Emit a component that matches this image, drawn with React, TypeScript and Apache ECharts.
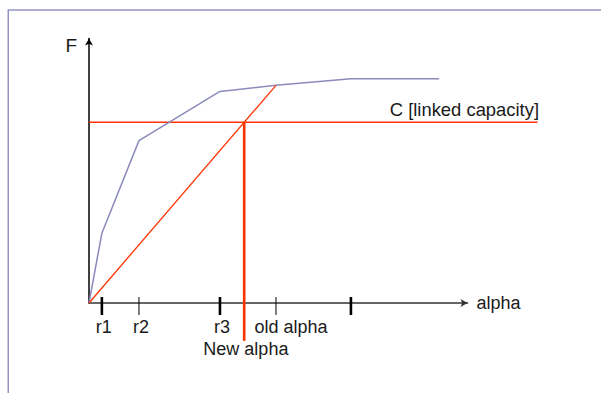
import React, { useEffect, useRef } from 'react';
import * as echarts from 'echarts';

// ---- data (alpha in arbitrary units 0..100, F in arbitrary units 0..100) ----
const alphaPoints = [0, 3.4, 13.2, 34.6, 49.4, 69.2, 92.5];
const fValues = [0, 26.4, 61.4, 80.0, 82.3, 84.8, 84.8];
const linkedCapacity = 68.3;
const newAlpha = 41.0;
const oldAlpha = 49.4;
const oldAlphaF = 82.3;
const capacityLineEnd = 118.5;
const newAlphaDrop = -14.3;
const tickValues = [3.4, 13.2, 34.6, 49.4, 69.2];
const tickLabels = ['r1', 'r2', 'r3', 'old alpha', ''];
const tickMajor = [true, false, true, false, true];
const capacityLabel = 'C [linked capacity]';
const newAlphaLabel = 'New alpha';

// ---- styles / layout ----
const FONT = '"Liberation Sans", Arial, Helvetica, sans-serif';
const TEXT_COLOR = '#1a1a1a';
const RED = '#ff3300';
const PURPLE = '#8a8abb';
const LABEL_DX: Record<string, number> = { 'old alpha': 13 };

export default function App() {
  const ref = useRef<HTMLDivElement>(null);
  useEffect(() => {
    if (!ref.current) return;
    const chart = echarts.init(ref.current, undefined, { renderer: 'svg' });
    const option: any = {
      animation: false,
      backgroundColor: '#ffffff',
      graphic: [
        {
          type: 'rect',
          shape: { x: 8.25, y: 10, width: 800, height: 600 },
          style: { fill: 'none', stroke: '#9494c4', lineWidth: 1.5 },
          silent: true,
        },
      ],
      grid: { left: 89, right: 133.5, top: 38.5, bottom: 90 },
      xAxis: {
        type: 'value',
        min: 0,
        max: 100,
        name: 'alpha',
        nameLocation: 'end',
        nameGap: 9,
        nameTextStyle: { fontFamily: FONT, fontSize: 18, color: TEXT_COLOR, verticalAlign: 'middle' },
        axisLine: { show: true, lineStyle: { color: '#333333', width: 1.6 }, symbol: ['none', 'arrow'], symbolSize: [6, 7] },
        axisTick: { show: false },
        axisLabel: { show: false },
        splitLine: { show: false },
      },
      yAxis: {
        type: 'value',
        min: 0,
        max: 100,
        name: 'F',
        nameLocation: 'end',
        nameGap: -7,
        nameTextStyle: { fontFamily: FONT, fontSize: 19, color: TEXT_COLOR, align: 'right', verticalAlign: 'middle', padding: [0, 12, 0, 0] },
        axisLine: { show: true, lineStyle: { color: '#000000', width: 1.5 }, symbol: ['none', 'arrow'], symbolSize: [6, 7] },
        axisTick: { show: false },
        axisLabel: { show: false },
        splitLine: { show: false },
      },
      series: [
        {
          name: 'F(alpha)',
          type: 'line',
          data: alphaPoints.map((a, i) => [a, fValues[i]]),
          showSymbol: false,
          lineStyle: { color: PURPLE, width: 1.5 },
          clip: false,
          z: 3,
        },
        {
          name: 'diagonal',
          type: 'line',
          data: [[0, 0], [oldAlpha, oldAlphaF]],
          showSymbol: false,
          lineStyle: { color: RED, width: 1.3 },
          clip: false,
          z: 3,
        },
        {
          name: 'capacity',
          type: 'custom',
          data: [[0, linkedCapacity, capacityLineEnd]],
          z: 3,
          renderItem: (params: any, api: any) => {
            const p0 = api.coord([api.value(0), api.value(1)]);
            const p1 = api.coord([api.value(2), api.value(1)]);
            return {
              type: 'group',
              children: [
                {
                  type: 'line',
                  shape: { x1: p0[0], y1: p0[1], x2: p1[0], y2: p1[1] },
                  style: { stroke: RED, lineWidth: 1.5 },
                },
                {
                  type: 'text',
                  x: p1[0] + 1.5,
                  y: p1[1] - 12.5,
                  style: { text: capacityLabel, fill: TEXT_COLOR, font: `18.4px ${FONT}`, align: 'right', verticalAlign: 'middle' },
                },
              ],
            };
          },
        },
        {
          name: 'new alpha',
          type: 'custom',
          data: [[newAlpha, linkedCapacity, newAlphaDrop]],
          z: 4,
          renderItem: (params: any, api: any) => {
            const p0 = api.coord([api.value(0), api.value(1)]);
            const p1 = api.coord([api.value(0), api.value(2)]);
            return {
              type: 'group',
              children: [
                {
                  type: 'line',
                  shape: { x1: p0[0], y1: p0[1], x2: p1[0], y2: p1[1] },
                  style: { stroke: RED, lineWidth: 2.6 },
                },
                {
                  type: 'text',
                  x: p1[0] + 1.7,
                  y: p1[1] + 8.5,
                  style: { text: newAlphaLabel, fill: TEXT_COLOR, font: `18px ${FONT}`, align: 'center', verticalAlign: 'middle' },
                },
              ],
            };
          },
        },
        {
          name: 'ticks',
          type: 'custom',
          data: tickValues.map((v, i) => [v, i]),
          z: 5,
          renderItem: (params: any, api: any) => {
            const i = api.value(1);
            const p = api.coord([api.value(0), 0]);
            const label = tickLabels[i];
            const dx = 2 + (LABEL_DX[label] || 0);
            return {
              type: 'group',
              children: [
                {
                  type: 'line',
                  shape: { x1: p[0], y1: p[1] - 6, x2: p[0], y2: p[1] + 12 },
                  style: { stroke: '#000000', lineWidth: tickMajor[i] ? 2.6 : 1 },
                },
                {
                  type: 'text',
                  x: p[0] + dx,
                  y: p[1] + 23.5,
                  style: { text: label, fill: TEXT_COLOR, font: `18px ${FONT}`, align: 'center', verticalAlign: 'middle' },
                },
              ],
            };
          },
        },
      ],
    };
    chart.setOption(option);
    return () => chart.dispose();
  }, []);
  return (
    <div
      ref={ref}
      style={{ position: 'fixed', left: 0, top: 0, width: 601, height: 393, background: '#fff' }}
    />
  );
}
